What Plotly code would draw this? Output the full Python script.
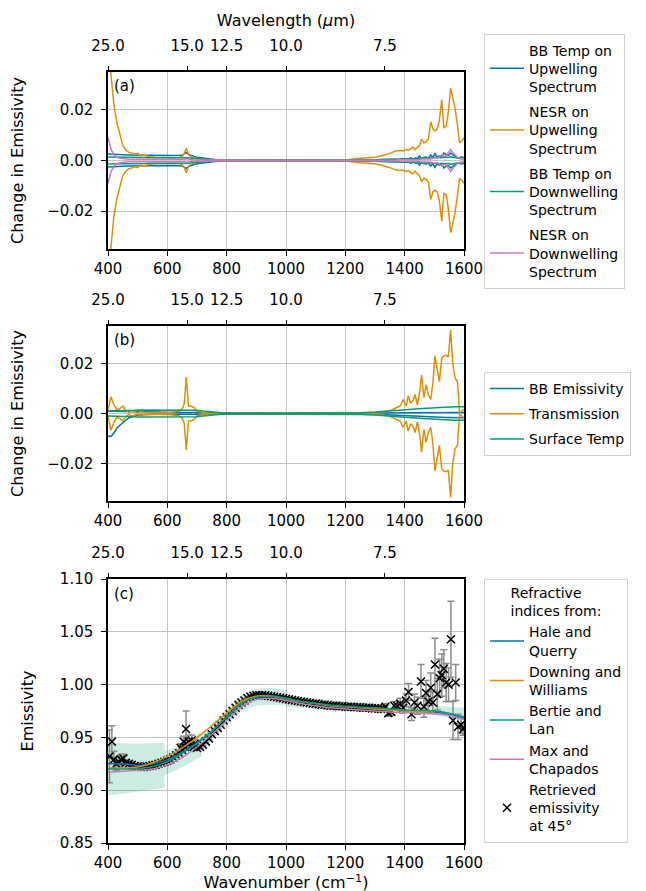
import numpy as np
import plotly.graph_objects as go

# ---------------- data ----------------
wn_ab = [400, 410, 420, 430, 440, 450, 460, 470, 480, 490, 500, 510, 520, 540, 560, 580, 600, 620, 640,
         650, 657, 664, 671, 680, 690, 700, 720, 740, 760, 780, 800, 850, 900, 1000, 1100, 1200, 1250, 1300,
         1320, 1340, 1355, 1370, 1385, 1395, 1405, 1412, 1420, 1428, 1435, 1443, 1450, 1457, 1465, 1472, 1480,
         1488, 1495, 1502, 1510, 1517, 1525, 1532, 1540, 1547, 1555, 1562, 1570, 1578, 1585, 1593, 1600]

# panel (a): magnitudes of +/- perturbation
bbt_up = [0.0026, 0.0025, 0.0024, 0.0023, 0.0023, 0.0022, 0.0023, 0.0022, 0.0022, 0.0021, 0.0022, 0.0021, 0.0021,
          0.0021, 0.0020, 0.0021, 0.0020, 0.0020, 0.0021,
          0.0022, 0.0026, 0.0031, 0.0024, 0.0019, 0.0016, 0.0013,
          0.0009, 0.0006, 0.0004, 0.0003, 0.0002,
          0.0001, 0.0001, 0.0001, 0.0001, 0.0001, 0.0002, 0.0003,
          0.0004, 0.0004, 0.0005, 0.0005, 0.0006, 0.0007, 0.0008,
          0.0006, 0.0011, 0.0007, 0.0010, 0.0009, 0.0018, 0.0008, 0.0012, 0.0014, 0.0010,
          0.0022, 0.0012, 0.0027, 0.0014, 0.0018, 0.0012, 0.0030, 0.0022, 0.0020, 0.0030,
          0.0022, 0.0016, 0.0010, 0.0012, 0.0014, 0.0012]
nesr_up = [0.060, 0.034, 0.022, 0.015, 0.0105, 0.006, 0.0042, 0.0032, 0.0030, 0.0025, 0.0028, 0.0018, 0.0022,
           0.0015, 0.0013, 0.0012, 0.0012, 0.0011, 0.0012,
           0.0016, 0.0028, 0.0048, 0.0025, 0.0013, 0.0009, 0.0007,
           0.0005, 0.0003, 0.0002, 0.00015, 0.0001,
           0.0001, 0.0001, 0.0001, 0.0001, 0.0002, 0.0009, 0.0013,
           0.0018, 0.0024, 0.0030, 0.0038, 0.0040, 0.0038, 0.0044,
           0.0040, 0.0047, 0.0053, 0.0042, 0.0050, 0.0060, 0.0084, 0.0070, 0.0074, 0.0084,
           0.0153, 0.0125, 0.0117, 0.0124, 0.0160, 0.0240, 0.0130, 0.0135, 0.0190, 0.0285,
           0.0250, 0.0205, 0.0140, 0.0070, 0.0078, 0.0090]
bbt_dn = [0.0014, 0.0014, 0.0013, 0.0013, 0.0013, 0.0013, 0.0012, 0.0012, 0.0012, 0.0012, 0.0012, 0.0012, 0.0012,
          0.0011, 0.0011, 0.0011, 0.0011, 0.0011, 0.0011,
          0.0011, 0.0012, 0.0013, 0.0011, 0.0009, 0.0008, 0.0006,
          0.0004, 0.0003, 0.0002, 0.0001, 0.0001,
          0.0001, 0.0, 0.0, 0.0, 0.0001, 0.0002, 0.0003,
          0.0003, 0.0004, 0.0004, 0.0005, 0.0005, 0.0006, 0.0006,
          0.0006, 0.0007, 0.0007, 0.0008, 0.0008, 0.0009, 0.0008, 0.0009, 0.0010, 0.0009,
          0.0011, 0.0010, 0.0013, 0.0011, 0.0012, 0.0011, 0.0014, 0.0013, 0.0012, 0.0015,
          0.0013, 0.0012, 0.0010, 0.0011, 0.0012, 0.0011]
nesr_dn = [0.0090, 0.0045, 0.0022, 0.0013, 0.0009, 0.0007, 0.0006, 0.0005, 0.0005, 0.0005, 0.0005, 0.0005, 0.0005,
           0.0004, 0.0004, 0.0004, 0.0004, 0.0004, 0.0004,
           0.0004, 0.0005, 0.0007, 0.0005, 0.0004, 0.0003, 0.0003,
           0.0002, 0.0002, 0.0001, 0.0001, 0.0001,
           0.0001, 0.0, 0.0, 0.0, 0.0, 0.0001, 0.0001,
           0.0001, 0.0002, 0.0002, 0.0002, 0.0003, 0.0003, 0.0003,
           0.0003, 0.0004, 0.0004, 0.0003, 0.0005, 0.0004, 0.0006, 0.0005, 0.0005, 0.0006,
           0.0006, 0.0008, 0.0012, 0.0008, 0.0014, 0.0022, 0.0014, 0.0018, 0.0030, 0.0043,
           0.0032, 0.0022, 0.0012, 0.0008, 0.0005, 0.0004]

# panel (b)
bbem_hi = [0.0009, 0.0009, 0.0009, 0.0008, 0.0008, 0.0008, 0.0008, 0.0008, 0.0007, 0.0007, 0.0007, 0.0007, 0.0007,
           0.0006, 0.0006, 0.0006, 0.0005, 0.0005, 0.0005,
           0.0005, 0.0005, 0.0005, 0.0005, 0.0004, 0.0004, 0.0004,
           0.0003, 0.0003, 0.0003, 0.0002, 0.0002,
           0.0002, 0.0002, 0.0001, 0.0001, 0.0001, 0.0001, 0.0002,
           0.0002, 0.0002, 0.0003, 0.0003, 0.0003, 0.0003, 0.0003,
           0.0003, 0.0003, 0.0003, 0.0003, 0.0003, 0.0003, 0.0003, 0.0003, 0.0003, 0.0003,
           0.0004, 0.0004, 0.0004, 0.0004, 0.0004, 0.0004, 0.0004, 0.0004, 0.0004, 0.0004,
           0.0004, 0.0004, 0.0004, 0.0004, 0.0004, 0.0004]
bbem_lo = [-0.0090, -0.0092, -0.0078, -0.0058, -0.0047, -0.0036, -0.0026, -0.0018, -0.0013, -0.0009, -0.0007, -0.0005, -0.0004,
           -0.0004, -0.0003, -0.0003, -0.0003, -0.0003, -0.0003,
           -0.0003, -0.0003, -0.0003, -0.0003, -0.0002, -0.0002, -0.0002,
           -0.0002, -0.0001, -0.0001, -0.0001, -0.0001,
           -0.0001, -0.0001, -0.0001, -0.0001, -0.0002, -0.0002, -0.0003,
           -0.0004, -0.0005, -0.0006, -0.0007, -0.0008, -0.0009, -0.0010,
           -0.0010, -0.0011, -0.0011, -0.0012, -0.0012, -0.0012, -0.0013, -0.0013, -0.0013, -0.0014,
           -0.0014, -0.0014, -0.0015, -0.0015, -0.0015, -0.0015, -0.0016, -0.0016, -0.0016, -0.0016,
           -0.0016, -0.0017, -0.0017, -0.0017, -0.0017, -0.0017]
trans = [0.0010, 0.0067, 0.0035, 0.0015, 0.0020, 0.0030, 0.0012, 0.0004, 0.0010, 0.0006, 0.0003, 0.0008, 0.0005,
         0.0004, 0.0003, 0.0003, 0.0004, 0.0006, 0.0010,
         0.0017, 0.0040, 0.0146, 0.0030, 0.0030, 0.0024, 0.0010,
         0.0004, 0.0002, 0.0001, 0.0001, 0.0001,
         0.0001, 0.0001, 0.0001, 0.0001, 0.0001, 0.0002, 0.0003,
         0.0005, 0.0008, 0.0013, 0.0022, 0.0030, 0.0056, 0.0030,
         0.0070, 0.0043, 0.0050, 0.0076, 0.0034, 0.0080, 0.0154, 0.0063, 0.0115, 0.0075,
         0.0056, 0.0120, 0.0230, 0.0180, 0.0128, 0.0222, 0.0230, 0.0233, 0.0226, 0.0335,
         0.0200, 0.0141, 0.0128, 0.0003, 0.0010, 0.0017]
surf_t = [0.0010, 0.0010, 0.0011, 0.0011, 0.0012, 0.0012, 0.0012, 0.0013, 0.0013, 0.0013, 0.0014, 0.0014, 0.0014,
          0.0014, 0.0015, 0.0015, 0.0015, 0.0016, 0.0016,
          0.0016, 0.0016, 0.0016, 0.0016, 0.0015, 0.0014, 0.0013,
          0.0010, 0.0007, 0.0004, 0.0002, 0.0001,
          0.0001, 0.0001, 0.0001, 0.0001, 0.0001, 0.0003, 0.0006,
          0.0008, 0.0010, 0.0012, 0.0013, 0.0015, 0.0016, 0.0017,
          0.0017, 0.0018, 0.0018, 0.0019, 0.0019, 0.0020, 0.0020, 0.0021, 0.0021, 0.0021,
          0.0022, 0.0022, 0.0023, 0.0023, 0.0024, 0.0024, 0.0025, 0.0025, 0.0026, 0.0026,
          0.0026, 0.0027, 0.0027, 0.0027, 0.0027, 0.0027]

# panel (c): modelled emissivity
wn_model = [400, 450, 500, 550, 600, 650, 700, 750, 800, 850, 900, 950, 1000, 1050, 1100, 1150, 1200,
            1250, 1300, 1350, 1400, 1450, 1500, 1550, 1600]
em_hale_querry = [0.925, 0.925, 0.9235, 0.925, 0.929, 0.936, 0.945, 0.956, 0.970, 0.983, 0.989, 0.9895, 0.987,
                  0.984, 0.982, 0.980, 0.979, 0.978, 0.977, 0.976, 0.975, 0.9745, 0.974, 0.972, 0.968]
wn_downing = [400, 450, 500, 550, 600, 650, 700, 750, 800, 850, 900, 950, 1000, 1050, 1100, 1150, 1200,
              1250, 1300, 1350, 1400, 1450, 1500]
em_downing = [0.921, 0.921, 0.922, 0.926, 0.932, 0.940, 0.950, 0.961, 0.973, 0.984, 0.989, 0.989, 0.9865,
              0.984, 0.982, 0.980, 0.979, 0.978, 0.977, 0.976, 0.975, 0.9745, 0.974]
em_bertie = [0.920, 0.920, 0.9205, 0.9225, 0.927, 0.935, 0.944, 0.956, 0.969, 0.982, 0.988, 0.989, 0.987,
             0.984, 0.982, 0.9805, 0.9795, 0.9785, 0.978, 0.977, 0.976, 0.9755, 0.975, 0.973, 0.969]
em_max = [0.917, 0.918, 0.919, 0.920, 0.924, 0.931, 0.941, 0.953, 0.966, 0.979, 0.986, 0.987, 0.985,
          0.982, 0.980, 0.978, 0.977, 0.976, 0.975, 0.974, 0.9735, 0.973, 0.9725, 0.971, 0.967]

# uncertainty band
wn_band = [400, 500, 590, 590, 650, 715, 715, 800, 850, 900, 950, 1000, 1000, 1100, 1200, 1300, 1400, 1500, 1600]
band_hi = [0.945, 0.944, 0.945, 0.937, 0.943, 0.955, 0.953, 0.977, 0.990, 0.996, 0.997, 0.995, 0.990, 0.987,
           0.984, 0.982, 0.981, 0.980, 0.978]
band_lo = [0.895, 0.899, 0.902, 0.914, 0.922, 0.932, 0.938, 0.962, 0.975, 0.980, 0.981, 0.981, 0.979, 0.977,
           0.975, 0.974, 0.973, 0.971, 0.966]

# retrieved emissivity
wn_left = [405, 413, 420, 428, 436, 444, 452, 460, 470, 480, 490]
em_left = [0.932, 0.946, 0.929, 0.925, 0.927, 0.929, 0.930, 0.926, 0.925, 0.924, 0.923]
err_left = [0.025, 0.015, 0.008, 0.006, 0.005, 0.005, 0.004, 0.003, 0.003, 0.003, 0.002]

wn_dense = list(range(500, 1340, 10))
em_dense = [0.9225, 0.922, 0.922, 0.9225, 0.923, 0.9235, 0.924, 0.925, 0.926, 0.927,
            0.928, 0.929, 0.931, 0.933, 0.935, 0.938, 0.941, 0.943, 0.942, 0.941,
            0.940, 0.941, 0.943, 0.946, 0.949, 0.953, 0.956, 0.959, 0.962, 0.966,
            0.969, 0.972, 0.975, 0.978, 0.981, 0.983, 0.985, 0.987, 0.9885, 0.9895,
            0.990, 0.990, 0.990, 0.990, 0.9895, 0.989, 0.9885, 0.988, 0.9875, 0.987,
            0.9865, 0.986, 0.9855, 0.985, 0.9845, 0.984, 0.9835, 0.983, 0.9825, 0.982,
            0.982, 0.9815, 0.981, 0.981, 0.9805, 0.980, 0.980, 0.980, 0.9795, 0.9795,
            0.979, 0.979, 0.979, 0.9785, 0.9785, 0.9785, 0.978, 0.978, 0.978, 0.9775,
            0.9775, 0.9775, 0.977, 0.977]
err_dense = [0.001] * len(em_dense)

wn_co2 = [645, 655, 663, 672, 682, 692]
em_co2 = [0.940, 0.946, 0.958, 0.946, 0.947, 0.944]
err_co2 = [0.004, 0.005, 0.017, 0.006, 0.005, 0.004]

wn_right = [1335, 1345, 1355, 1365, 1375, 1385, 1395, 1405, 1413, 1423, 1433, 1443, 1455, 1465, 1472, 1480,
            1488, 1495, 1502, 1510, 1518, 1525, 1532, 1540, 1548, 1556, 1563, 1572, 1580, 1590, 1597]
em_right = [0.979, 0.973, 0.974, 0.980, 0.980, 0.982, 0.978, 0.985, 0.993, 0.972, 0.983, 0.980, 1.003, 0.979,
            0.992, 0.984, 0.997, 0.983, 1.019, 0.991, 1.006, 1.009, 1.015, 1.002, 1.000, 1.043, 0.966, 1.002,
            0.960, 0.962, 0.958]
err_right = [0.003, 0.003, 0.003, 0.004, 0.004, 0.005, 0.005, 0.006, 0.008, 0.006, 0.008, 0.008, 0.016, 0.010,
             0.012, 0.010, 0.014, 0.010, 0.025, 0.015, 0.018, 0.020, 0.018, 0.018, 0.016, 0.036, 0.018, 0.017,
             0.012, 0.008, 0.006]

wl_ticks = [25.0, 15.0, 12.5, 10.0, 7.5]
wl_labels = ["25.0", "15.0", "12.5", "10.0", "7.5"]

# ---------------- styling ----------------
BLUE, ORANGE, GREEN, PINK = "#0173b2", "#de8f05", "#029e73", "#cc78bc"
FONT = "DejaVu Sans"
W, H = 646, 891
XDOM = [100 / W, 456 / W]
YDOMS = [[1 - 241 / H, 1 - 64 / H], [1 - 493 / H, 1 - 318 / H], [1 - 835 / H, 1 - 571 / H]]

fig = go.Figure()


def add_pm(xs, mags, color, name, legend, ax):
    m = np.array(mags)
    xa, ya = ax
    fig.add_trace(go.Scatter(x=xs, y=m, mode="lines", line=dict(color=color, width=1.5), name=name,
                             legend=legend, legendgroup=name, xaxis=xa, yaxis=ya))
    fig.add_trace(go.Scatter(x=xs, y=-m, mode="lines", line=dict(color=color, width=1.5), name=name,
                             legend=legend, legendgroup=name, showlegend=False, xaxis=xa, yaxis=ya))


# panel (a)
add_pm(wn_ab, bbt_up, BLUE, "BB Temp on<br>Upwelling<br>Spectrum", "legend", ("x", "y"))
add_pm(wn_ab, nesr_up, ORANGE, "NESR on<br>Upwelling<br>Spectrum", "legend", ("x", "y"))
add_pm(wn_ab, bbt_dn, GREEN, "BB Temp on<br>Downwelling<br>Spectrum", "legend", ("x", "y"))
add_pm(wn_ab, nesr_dn, PINK, "NESR on<br>Downwelling<br>Spectrum", "legend", ("x", "y"))

# panel (b)
fig.add_trace(go.Scatter(x=wn_ab, y=bbem_hi, mode="lines", line=dict(color=BLUE, width=1.5),
                         name="BB Emissivity", legend="legend2", legendgroup="bbem", xaxis="x2", yaxis="y2"))
fig.add_trace(go.Scatter(x=wn_ab, y=bbem_lo, mode="lines", line=dict(color=BLUE, width=1.5),
                         name="BB Emissivity", legend="legend2", legendgroup="bbem", showlegend=False,
                         xaxis="x2", yaxis="y2"))
add_pm(wn_ab, trans, ORANGE, "Transmission", "legend2", ("x2", "y2"))
add_pm(wn_ab, surf_t, GREEN, "Surface Temp", "legend2", ("x2", "y2"))

# panel (c)
fig.add_trace(go.Scatter(x=wn_band, y=band_lo, mode="lines", line=dict(width=0), showlegend=False,
                         hoverinfo="skip", xaxis="x3", yaxis="y3"))
fig.add_trace(go.Scatter(x=wn_band, y=band_hi, mode="lines", line=dict(width=0), fill="tonexty",
                         fillcolor="rgba(2,158,115,0.2)", showlegend=False, hoverinfo="skip",
                         xaxis="x3", yaxis="y3"))

wn_ret = wn_left + wn_dense + wn_co2 + wn_right
em_ret = em_left + em_dense + em_co2 + em_right
err_ret = err_left + err_dense + err_co2 + err_right
fig.add_trace(go.Scatter(x=wn_ret, y=em_ret, mode="markers",
                         marker=dict(symbol="x-thin", size=8, color="black", line=dict(color="black", width=1.5)),
                         error_y=dict(type="data", array=err_ret, color="#8c8c8c", thickness=1.5, width=3.5),
                         name="Retrieved<br>emissivity<br>at 45°", legend="legend3", legendrank=1005,
                         xaxis="x3", yaxis="y3"))
for xs, ys, col, nm, rk in [(wn_model, em_hale_querry, BLUE, "Hale and<br>Querry", 1001),
                            (wn_downing, em_downing, ORANGE, "Downing and<br>Williams", 1002),
                            (wn_model, em_bertie, GREEN, "Bertie and<br>Lan", 1003),
                            (wn_model, em_max, PINK, "Max and<br>Chapados", 1004)]:
    fig.add_trace(go.Scatter(x=xs, y=ys, mode="lines", line=dict(color=col, width=1.5, shape="spline", smoothing=0.8),
                             name=nm, legend="legend3", legendrank=rk, xaxis="x3", yaxis="y3"))

# invisible anchors so the top (wavelength) axes are drawn
for i in range(3):
    sx = "" if i == 0 else str(i + 1)
    fig.add_trace(go.Scatter(x=[400, 1600], y=[None, None], mode="lines", showlegend=False, hoverinfo="skip",
                             xaxis="x" + str(i + 4), yaxis="y" + sx))

# ---------------- axes ----------------
tickfont = dict(family=FONT, size=15, color="black")
titlefont = dict(family=FONT, size=16, color="black")
layout = dict(width=W, height=H, margin=dict(l=0, r=0, t=0, b=0), plot_bgcolor="white",
              paper_bgcolor="white", font=dict(family=FONT, size=14, color="black"), showlegend=True)

for i in range(3):
    sx = "" if i == 0 else str(i + 1)
    ytitle = "Change in Emissivity" if i < 2 else "Emissivity"
    xa = dict(domain=XDOM, anchor="y" + sx, range=[400, 1600], tickvals=list(range(400, 1601, 200)),
              showgrid=True, gridcolor="#c4c4c4", gridwidth=1, showline=True, linecolor="black",
              linewidth=1.5, mirror=True, ticks="outside", ticklen=5, tickwidth=1.3,
              tickcolor="black", tickfont=tickfont, zeroline=False, automargin=False)
    if i == 2:
        xa["title"] = dict(text="Wavenumber (cm<sup>−1</sup>)", font=titlefont, standoff=1)
    layout["xaxis" + sx] = xa
    if i < 2:
        yax = dict(range=[-0.035, 0.035], tickvals=[-0.02, 0.0, 0.02], tickformat=".2f")
    else:
        yax = dict(range=[0.85, 1.10], tickvals=[0.85, 0.90, 0.95, 1.00, 1.05, 1.10], tickformat=".2f")
    yax.update(domain=YDOMS[i], anchor="x" + sx, showgrid=True, gridcolor="#c4c4c4", gridwidth=1, showline=True,
               linecolor="black", linewidth=1.5, mirror=True, ticks="outside", ticklen=5, tickwidth=1.3,
               tickcolor="black", tickfont=tickfont, zeroline=False, automargin=False, ticklabelstandoff=5,
               title=dict(text=ytitle, font=titlefont, standoff=22))
    layout["yaxis" + sx] = yax
    tx = str(i + 4)
    ta = dict(overlaying="x" + sx, anchor="y" + sx, side="top", range=[400, 1600],
              tickvals=[1e4 / w for w in wl_ticks], ticktext=wl_labels, showgrid=False,
              showline=False, ticks="outside", ticklen=5, tickwidth=1.3, tickcolor="black",
              tickfont=tickfont, zeroline=False, automargin=False, ticklabelstandoff=9)
    if i == 0:
        ta["title"] = dict(text="Wavelength (<i>μ</i>m)", font=titlefont, standoff=6)
    layout["xaxis" + tx] = ta

legbase = dict(x=476 / W, xanchor="left", yanchor="middle", bgcolor="white", bordercolor="#d0d0d0",
               borderwidth=1, font=dict(family=FONT, size=14, color="black"), itemwidth=34,
               tracegroupgap=4)
layout["legend"] = dict(legbase, y=1 - 153 / H)
layout["legend2"] = dict(legbase, y=1 - 406 / H)
layout["legend3"] = dict(legbase, y=1 - 703 / H,
                         title=dict(text="Refractive<br>indices from:", side="top center",
                                    font=dict(family=FONT, size=14, color="black")))

annots = []
for i, lab in enumerate(["(a)", "(b)", "(c)"]):
    sx = "" if i == 0 else str(i + 1)
    annots.append(dict(text=lab, xref="x" + sx + " domain", yref="y" + sx + " domain", x=0.012, y=0.985,
                       xanchor="left", yanchor="top", showarrow=False, font=dict(family=FONT, size=15, color="black")))
layout["annotations"] = annots

fig.update_layout(**layout)
fig.write_html("out.html")
